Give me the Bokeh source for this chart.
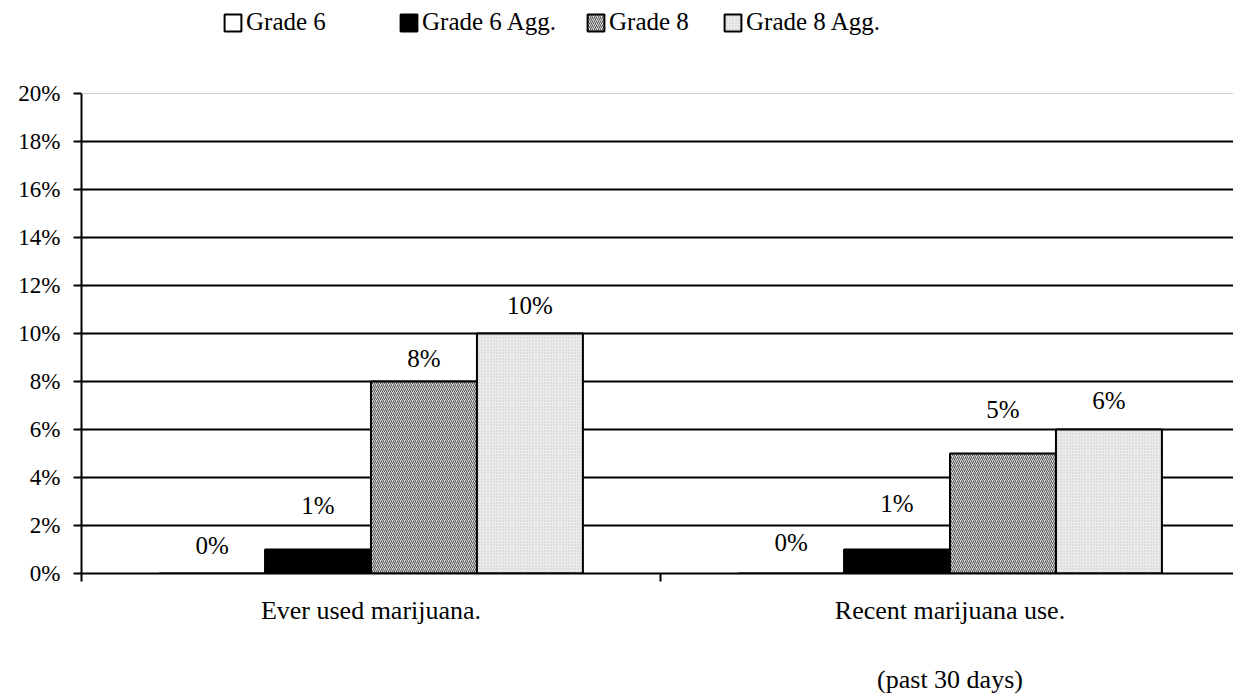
from bokeh.plotting import figure
from bokeh.models import (Range1d, FixedTicker, PrintfTickFormatter, Legend, LegendItem,
                          Span, ColumnDataSource)
from bokeh.core.properties import value
from bokeh.embed import file_html
from bokeh.resources import INLINE

# ---- data ----
categories = ["Ever used marijuana.", "Recent marijuana use.\n\n(past 30 days)"]
series_names = ["Grade 6", "Grade 6 Agg.", "Grade 8", "Grade 8 Agg."]
grade6 = [0, 0]
grade6_agg = [1, 1]
grade8 = [8, 5]
grade8_agg = [10, 6]
y_ticks = [0, 2, 4, 6, 8, 10, 12, 14, 16, 18, 20]

# ---- styling ----
FONT = "Liberation Serif"
bar_w = 0.183
styles = [
    dict(fill_color="white"),
    dict(fill_color="black"),
    dict(fill_color="#d4d4d4", hatch_pattern="/", hatch_color="#555555", hatch_scale=4, hatch_weight=1),
    dict(fill_color="#ececec", hatch_pattern=".", hatch_color="#c4c4c4", hatch_scale=3, hatch_weight=1),
]
# vertical pixel nudges of data labels above bar tops (per series, per category)
label_nudge = [[28, 31], [44, 46], [23, 44], [28, 29]]
legend_x = [141, 317, 504, 641]

W, H = 1233, 698
BOTTOM = 125
frame_h = H - BOTTOM
px_per_unit = 24.0
p = figure(width=W, height=H, output_backend="svg", toolbar_location=None,
           x_range=Range1d(0, (W - 81) / 579), y_range=Range1d(0, frame_h / px_per_unit),
           min_border_left=81, min_border_right=0, min_border_top=0, min_border_bottom=BOTTOM)
p.outline_line_color = None
p.background_fill_color = "white"

all_series = [grade6, grade6_agg, grade8, grade8_agg]
renderers = []
for j, vals in enumerate(all_series):
    xs = [i + 0.5 + (j - 1.5) * bar_w for i in range(len(categories))]
    src = ColumnDataSource(dict(x=xs, top=vals, lab=[f"{v}%" for v in vals],
                                yoff=[-n for n in label_nudge[j]]))
    r = p.vbar(x="x", top="top", bottom=0, width=bar_w, source=src,
               line_color="black", line_width=2, **styles[j])
    renderers.append(r)
    p.text(x="x", y="top", text="lab", source=src, y_offset="yoff",
           text_align="center", text_baseline="middle",
           text_font=value(FONT), text_font_size="25px", text_color="black")

# axes
p.yaxis.ticker = FixedTicker(ticks=y_ticks)
p.yaxis.bounds = (y_ticks[0], y_ticks[-1])
p.yaxis.formatter = PrintfTickFormatter(format="%d%%")
p.yaxis.major_label_text_font = FONT
p.yaxis.major_label_text_font_size = "23px"
p.yaxis.major_label_text_color = "black"
p.yaxis.axis_line_width = 2
p.yaxis.axis_line_color = "black"
p.yaxis.major_tick_line_width = 2
p.yaxis.major_tick_in = 0
p.yaxis.major_tick_out = 8
p.yaxis.minor_tick_line_color = None
p.yaxis.major_label_standoff = 13

p.xaxis.ticker = FixedTicker(ticks=[i + 0.5 for i in range(len(categories))],
                             minor_ticks=[0, 1, 2])
p.xaxis.major_label_overrides = {i + 0.5: c for i, c in enumerate(categories)}
p.xaxis.major_label_text_font = FONT
p.xaxis.major_label_text_font_size = "26px"
p.xaxis.major_label_text_color = "black"
p.xaxis.axis_line_width = 2
p.xaxis.axis_line_color = "black"
p.xaxis.major_tick_line_color = None
p.xaxis.major_tick_in = 0
p.xaxis.major_tick_out = 0
p.xaxis.minor_tick_line_color = "black"
p.xaxis.minor_tick_line_width = 2
p.xaxis.minor_tick_in = 0
p.xaxis.minor_tick_out = 8
p.xaxis.major_label_standoff = 14

p.xgrid.grid_line_color = None
p.ygrid.ticker = FixedTicker(ticks=y_ticks[1:-1])
p.ygrid.grid_line_color = "black"
p.ygrid.grid_line_width = 2
p.add_layout(Span(location=y_ticks[-1], dimension="width", line_color="#cccccc", line_width=1))

# legend: one per entry, placed above the 20% line inside the frame
for j, name in enumerate(series_names):
    lg = Legend(items=[LegendItem(label=name, renderers=[renderers[j]])],
                location=(legend_x[j], frame_h - 36), orientation="horizontal",
                label_text_font=FONT, label_text_font_size="25px", label_text_color="black",
                glyph_width=21, glyph_height=21, label_standoff=3, padding=0, margin=0,
                border_line_color=None, background_fill_alpha=0)
    p.add_layout(lg, "center")

open("out.html", "w").write(file_html(p, INLINE))
